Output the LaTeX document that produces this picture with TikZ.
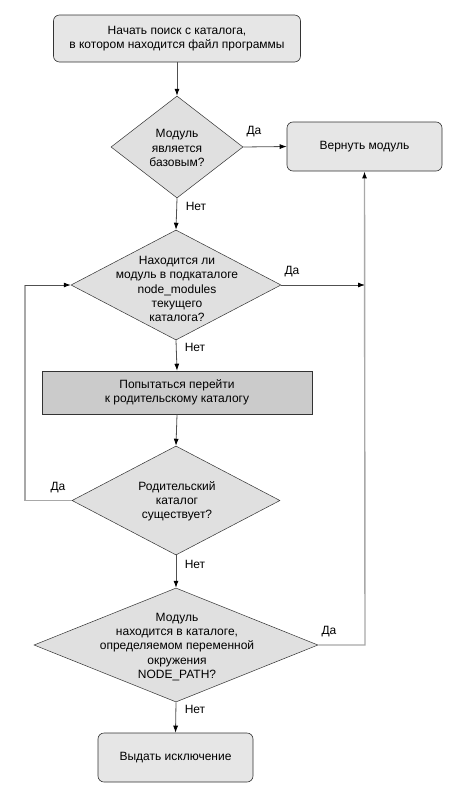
\documentclass[tikz,border=0pt]{standalone}
\usepackage{fontspec}
\setmainfont{Liberation Sans}
\usetikzlibrary{shapes.geometric,arrows.meta}
\definecolor{boxfill}{HTML}{E6E6E6}
\definecolor{diafill}{HTML}{E0E0E0}
\definecolor{darkfill}{HTML}{CBCBCB}
\definecolor{loopline}{HTML}{A8A8A8}
\definecolor{mainline}{HTML}{505050}
\begin{document}
\begin{tikzpicture}[x=1pt,y=-1pt,
  every node/.style={font=\fontsize{12}{14.2}\selectfont},
  rbox/.style={draw=black!80,line width=0.6pt,fill=boxfill,rounded corners=6pt,inner sep=0pt,align=center},
  sbox/.style={draw=black!80,line width=0.6pt,fill=darkfill,inner sep=0pt,align=center},
  dia/.style={diamond,draw=black!80,line width=0.5pt,fill=diafill,inner sep=0pt},
  txt/.style={align=center,inner sep=0pt},
  lbl/.style={inner sep=0pt},
  flow/.style={draw=mainline,line width=0.8pt,-{Latex[length=7pt,width=5pt,black]}},
  loop/.style={draw=loopline,line width=1.4pt},
  loopa/.style={draw=loopline,line width=1.4pt,-{Latex[length=7pt,width=5pt,black]}}
]
\useasboundingbox (0,0) rectangle (457,790);
\fill[white] (0,0) rectangle (457,790);

% nodes
\node[rbox,minimum width=247pt,minimum height=47pt] (start) at (177,38.5) {Начать поиск с каталога,\\в котором находится файл программы};
\node[dia,minimum width=132pt,minimum height=102pt] (d1) at (177,147) {};
\node[txt] (d1t) at (177,148) {Модуль\\является\\базовым?};
\node[rbox,minimum width=155pt,minimum height=49pt] (ret) at (364.5,146.5) {Вернуть модуль};
\node[dia,minimum width=210pt,minimum height=110pt] (d2) at (176,285) {};
\node[txt] (d2t) at (177,289) {Находится ли\\модуль в подкаталоге\\node\_modules\\текущего\\каталога?};
\node[sbox,minimum width=270pt,minimum height=43pt] (up) at (177,392.5) {Попытаться перейти\\к родительскому каталогу};
\node[dia,minimum width=208pt,minimum height=109pt] (d3) at (176,500.5) {};
\node[txt] (d3t) at (177,501) {Родительский\\каталог\\существует?};
\node[dia,minimum width=284pt,minimum height=114pt] (d4) at (176,645) {};
\node[txt] (d4t) at (177,647) {Модуль\\находится в каталоге,\\определяемом переменной\\окружения\\NODE\_PATH?};
\node[rbox,minimum width=155pt,minimum height=49pt] (exc) at (175.5,757.5) {Выдать исключение};

\coordinate (rj) at (365,285);
\coordinate (rb) at (365,645);
\coordinate (lt) at (25,285);
\coordinate (lb) at (25,500.5);

% connectors
\draw[flow] (start.south) -- (d1.north);
\draw[flow] (d1.east) -- (ret.west);
\draw[flow] (d1.south) -- (d2.north);
\draw[flow] (d2.east) -- (rj);
\draw[flow] (d2.south) -- (up.north);
\draw[flow] (up.south) -- (d3.north);
\draw[flow] (d3.south) -- (d4.north);
\draw[flow] (d4.south) -- (exc.north);
\draw[loopa] (d4.east) -- (rb) -- (ret.south);
\draw[loop] (d3.west) -- (lb) -- (lt);
\draw[flow] (lt) -- (d2.west);

% labels
\node[lbl] (l1) at (254,132) {Да};
\node[lbl] (l2) at (196,206) {Нет};
\node[lbl] (l3) at (292,272) {Да};
\node[lbl] (l4) at (195,347) {Нет};
\node[lbl] (l5) at (58,488) {Да};
\node[lbl] (l6) at (195,564) {Нет};
\node[lbl] (l7) at (329,632) {Да};
\node[lbl] (l8) at (195,709) {Нет};
\end{tikzpicture}
\end{document}
